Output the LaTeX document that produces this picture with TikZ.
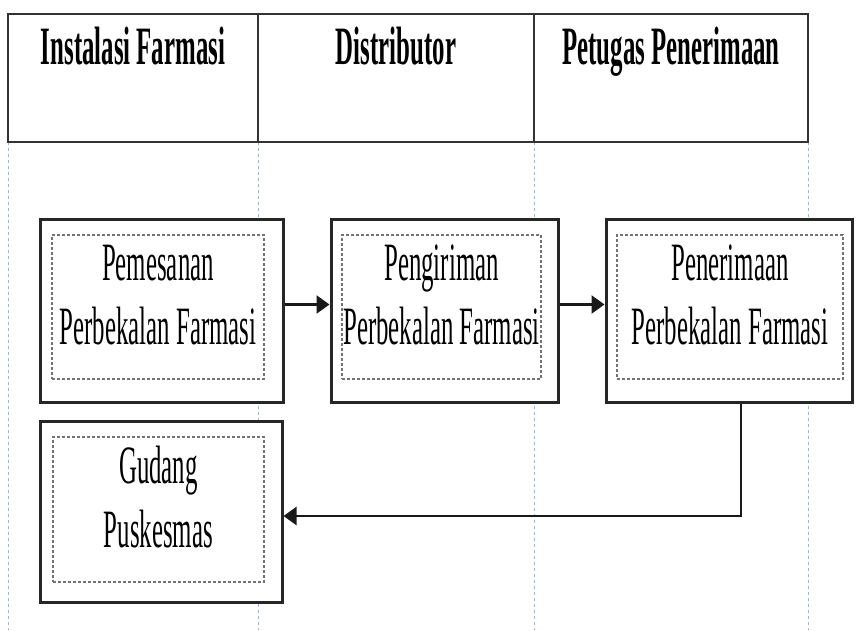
\documentclass[tikz,border=0pt]{standalone}
\usepackage{fontspec}
\usepackage{tikz}
\usetikzlibrary{arrows.meta}
\newfontfamily\condfont[FakeStretch=0.46]{Liberation Serif}
\definecolor{lanecol}{RGB}{165,180,205}

\tikzset{
  lane/.style = {draw = lanecol, dashed, line width = 0.8pt},
  cell/.style = {draw = black!80, line width = 2.8pt, minimum height = 128pt, inner sep = 0pt},
  title/.style = {anchor = base, font = \condfont\bfseries\fontsize{54}{64}\selectfont},
  proc/.style = {draw = black!85, line width = 3pt, fill = white, minimum height = 183pt, inner sep = 0pt},
  frame/.style = {draw = black!55, densely dashed, line width = 1.3pt, minimum height = 144pt,
                  inner sep = 0pt, align = center, text depth = 25pt,
                  font = \condfont\fontsize{54}{64}\selectfont},
  flow/.style = {draw = black!90, line width = 2.5pt, -{Triangle[length = 13pt, width = 18pt]}}
}

\begin{document}
\begin{tikzpicture}[x = 1pt, y = -1pt]
  \useasboundingbox (0, 0) rectangle (856, 630);
  \foreach \x in {8, 258, 534, 808}
    \draw [lane] (\x, 142) -- (\x, 630);

  \node [cell, minimum width = 250pt] (farmasi) at (133, 78) {};
  \node [cell, minimum width = 276pt] (distrib) at (396, 78) {};
  \node [cell, minimum width = 274pt] (petugas) at (671, 78) {};
  \node [title] (farmasi-t) at (133, 64) {Instalasi Farmasi};
  \node [title] (distrib-t) at (396, 64) {Distributor};
  \node [title] (petugas-t) at (671, 64) {Petugas Penerimaan};

  \node [proc, minimum width = 243pt] (pesan) at (161.5, 310.5) {};
  \node [frame, minimum width = 212pt] (pesan-in) at (158, 307) {Pemesanan\\Perbekalan Farmasi};
  \node [proc, minimum width = 227pt] (kirim) at (444.5, 310.5) {};
  \node [frame, minimum width = 199pt] (kirim-in) at (441.5, 307) {Pengiriman\\Perbekalan Farmasi};
  \node [proc, minimum width = 246pt] (terima) at (729, 310.5) {};
  \node [frame, minimum width = 226pt] (terima-in) at (730, 307) {Penerimaan\\Perbekalan Farmasi};
  \node [proc, minimum width = 242pt, minimum height = 181pt] (gudang) at (161, 511.5) {};
  \node [frame, minimum width = 211pt, minimum height = 145pt] (gudang-in) at (158.5, 509.5) {Gudang\\Puskesmas};

  \draw [flow] ([yshift = 6pt] pesan.east) -- ([yshift = 6pt] kirim.west);
  \draw [flow] ([yshift = 6pt] kirim.east) -- ([yshift = 6pt] terima.west);
  \draw [flow] ([xshift = 12pt] terima.south) |- ([yshift = -4.5pt] gudang.east);
\end{tikzpicture}
\end{document}
